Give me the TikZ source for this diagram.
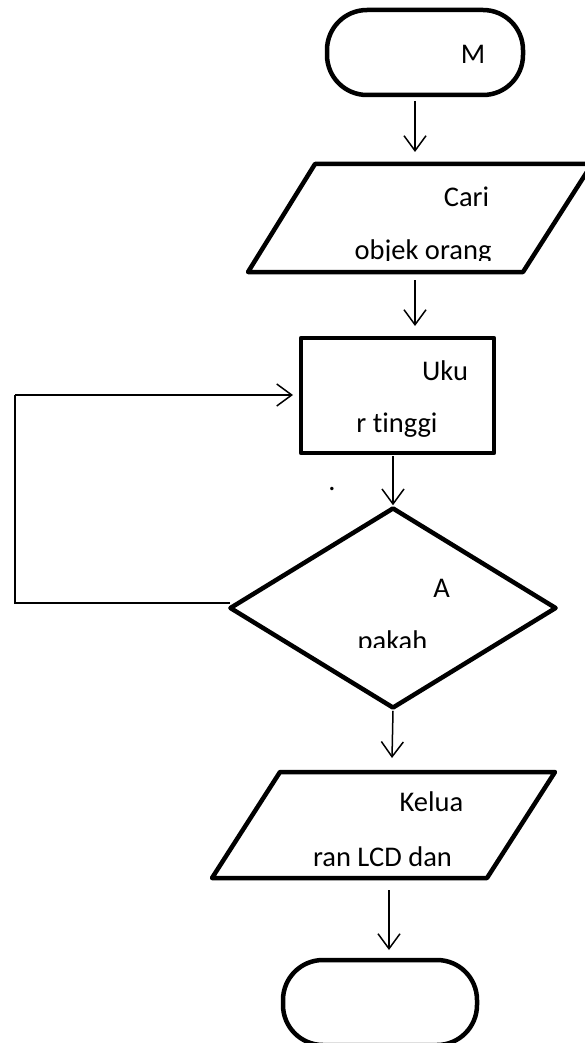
\documentclass[tikz,border=0pt]{standalone}
\usepackage{fontspec}
\setmainfont[Ligatures=NoCommon]{Carlito}
\usetikzlibrary{arrows.meta,shapes.geometric}
\begin{document}
\begin{tikzpicture}[x=1pt,y=-1pt,
  outline/.style={draw=black,line width=4.5pt,line join=round},
  termbox/.style={outline,rectangle,rounded corners=40pt,inner sep=0pt},
  procbox/.style={outline,rectangle,inner sep=0pt},
  decbox/.style={outline,diamond,inner sep=0pt},
  conn/.style={line width=1.5pt,-{Straight Barb[length=15pt,width=22pt,line width=1.5pt]}},
  loopline/.style={line width=1.5pt},
  lbl/.style={anchor=base,inner sep=0pt,font=\fontsize{28.5}{34}\selectfont}]
\useasboundingbox (0,0) rectangle (584,1043);

% shapes
\node[termbox,minimum width=196pt,minimum height=85pt] (start) at (425,52.5) {};
\draw[outline] (315,164) -- (592,164) -- (523,272) -- (248,272) -- cycle;
\node[procbox,minimum width=193pt,minimum height=115pt] (measure) at (397.5,395.5) {};
\node[decbox,minimum width=327pt,minimum height=201pt] (decide) at (393,608) {};
\draw[outline] (280,772) -- (555,772) -- (487,878) -- (212,878) -- cycle;
\node[termbox,minimum width=194pt,minimum height=85pt] (stop) at (380,1002.5) {};

% named connector ends
\coordinate (a1s) at (415,101);
\coordinate (a1e) at (415,152);
\coordinate (a2s) at (415,280);
\coordinate (a2e) at (415,326);
\coordinate (a3s) at (393,456);
\coordinate (a4e) at (392,758);
\coordinate (a5s) at (389,890);
\coordinate (a5e) at (389,950);
\coordinate (loopA) at (230,603);
\coordinate (loopB) at (15,603);
\coordinate (loopC) at (15,395);
\coordinate (loopD) at (293,395);

% connectors
\draw[conn] (a1s) -- (a1e);
\draw[conn] (a2s) -- (a2e);
\draw[conn] (a3s) -- (decide.north);
\draw[conn] (decide.south) -- (a4e);
\draw[conn] (a5s) -- (a5e);
\draw[loopline] (loopA) -- (loopB) -- (loopC);
\draw[conn] (loopC) -- (loopD);

% texts
\node[lbl] (tM) at (473,64) {M};
\node[lbl] (tCari) at (466.5,206) {Cari};
\begin{scope}
  \clip (0,0) rectangle (584,260);
  \node[lbl] (tObjek) at (423,259) {objek orang};
\end{scope}
\node[lbl] (tUku) at (445,380) {Uku};
\node[lbl] (tTinggi) at (397,432) {r tinggi};
\node[lbl] (tDot) at (332,490) {.};
\node[lbl] (tA) at (441.5,597) {A};
\begin{scope}
  \clip (0,0) rectangle (584,647);
  \node[lbl] (tPakah) at (392.5,650) {pakah};
\end{scope}
\node[lbl] (tKelua) at (431.5,811) {Kelua};
\node[lbl] (tLCD) at (382.5,866) {ran LCD dan};
\end{tikzpicture}
\end{document}
